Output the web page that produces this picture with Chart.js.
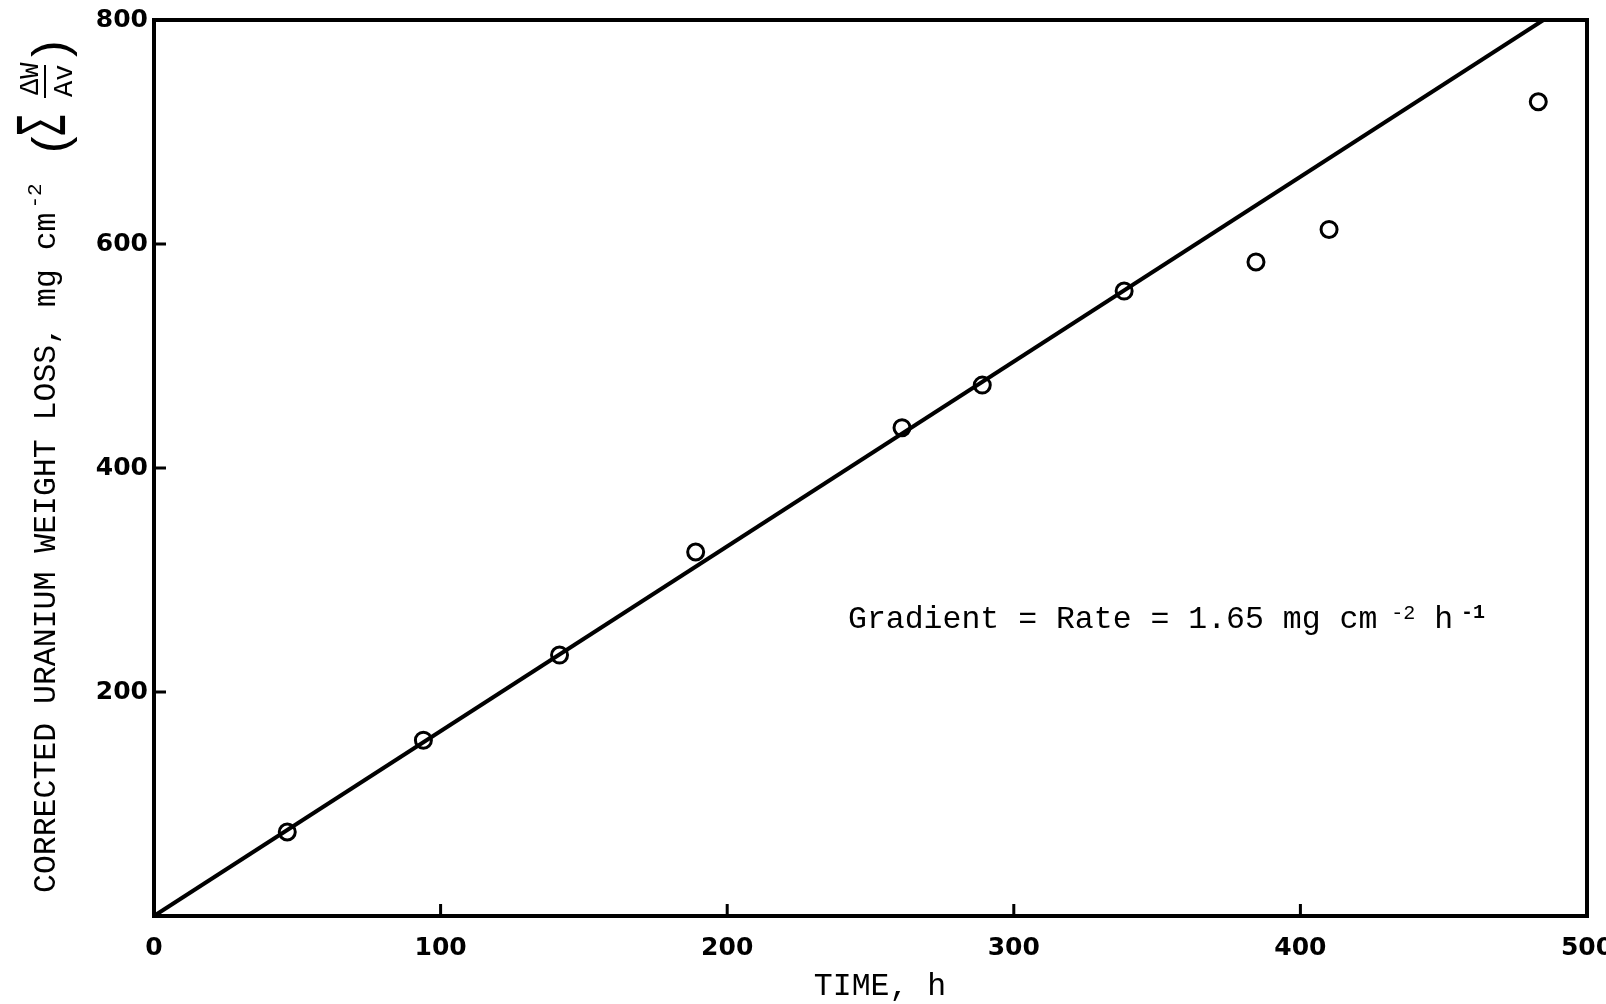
<!DOCTYPE html>
<html>
<head>
<meta charset="utf-8">
<script src="https://cdn.jsdelivr.net/npm/chart.js@4.4.1/dist/chart.umd.min.js"></script>
<style>
  html, body { margin: 0; padding: 0; background: #fff; }
  canvas { display: block; }
</style>
</head>
<body>
<canvas id="c" width="1606" height="1004"></canvas>
<script>
// time (h) and corrected weight loss (mg cm^-2)
const timeH  = [46.5, 94, 141.5, 189, 261, 289, 338.5, 384.5, 410, 483];
const lossMg = [75, 157, 233, 325, 436, 474, 558, 584, 613, 727];

// the straight line through the points (gradient 1.65)
const fitTime = [0, 484.8];
const fitLoss = [0, 800];
const rate = '1.65';

const xTicks = [0, 100, 200, 300, 400, 500];
const yTicks = [0, 200, 400, 600, 800];

const mono = '"Liberation Mono", "DejaVu Sans Mono", monospace';
const tickFont = { family: '"DejaVu Sans", sans-serif', size: 25, weight: 'bold' };

// draws pieces of text one after the other, returns the end x
function runText(ctx, x, y, parts) {
  for (const [t, size, raise, weight] of parts) {
    ctx.font = (weight || 'normal') + ' ' + size + 'px ' + mono;
    ctx.fillText(t, x, y - raise);
    x += ctx.measureText(t).width;
  }
  return x;
}

const frame = {
  id: 'frame',
  afterDraw(chart) {
    const { ctx, chartArea: a, scales } = chart;
    ctx.save();
    ctx.strokeStyle = '#000';
    ctx.fillStyle = '#000';
    ctx.lineWidth = 4;
    ctx.strokeRect(a.left, a.top, a.right - a.left, a.bottom - a.top);

    // short inward tick marks
    ctx.lineWidth = 3;
    ctx.beginPath();
    scales.x.ticks.forEach(t => {
      if (t.value <= 0 || t.value >= 500) return;
      const px = scales.x.getPixelForValue(t.value);
      ctx.moveTo(px, a.bottom);
      ctx.lineTo(px, a.bottom - 12);
    });
    scales.y.ticks.forEach(t => {
      if (t.value <= 0 || t.value >= 800) return;
      const py = scales.y.getPixelForValue(t.value);
      ctx.moveTo(a.left, py);
      ctx.lineTo(a.left + 12, py);
    });
    ctx.stroke();

    // x axis title
    ctx.textAlign = 'center';
    ctx.textBaseline = 'middle';
    ctx.font = '31.5px ' + mono;
    ctx.fillText('TIME, h', 880, 987);
    ctx.textAlign = 'left';

    // y axis title, rotated, with superscript and the sum term
    ctx.textBaseline = 'alphabetic';
    ctx.translate(55, 893);
    ctx.rotate(-Math.PI / 2);
    let d = runText(ctx, 0, 0, [['CORRECTED URANIUM WEIGHT LOSS, mg cm', 31.5, 0]]);
    runText(ctx, d + 4, 0, [['-2', 21, 14]]);
    ctx.font = '50px "Liberation Sans", sans-serif';
    ctx.fillText('(', 740, 11.5);
    ctx.save();
    ctx.translate(758, 0);
    ctx.scale(0.55, 1);
    ctx.font = '53px "DejaVu Sans", sans-serif';
    ctx.fillText('\u2211', 0, 0);
    ctx.restore();
    ctx.font = '27px ' + mono;
    ctx.fillText('\u0394W', 798, -17);
    ctx.fillText('Av', 796, 16.5);
    ctx.lineWidth = 2;
    ctx.beginPath();
    ctx.moveTo(795, -10);
    ctx.lineTo(828, -10);
    ctx.stroke();
    ctx.font = '50px "Liberation Sans", sans-serif';
    ctx.fillText(')', 836, 11.5);
    ctx.restore();

    // gradient note
    ctx.save();
    ctx.fillStyle = '#000';
    ctx.textBaseline = 'alphabetic';
    const base = 628;
    let x = runText(ctx, 848, base, [['Gradient = Rate = ' + rate + ' mg cm', 31.5, 0]]);
    x = runText(ctx, x + 14, base, [['-2', 20, 9]]);
    x = runText(ctx, x, base, [[' h', 31.5, 0]]);
    runText(ctx, x + 8, base, [['-1', 20, 10, 'bold']]);
    ctx.restore();
  }
};

new Chart(document.getElementById('c'), {
  type: 'scatter',
  data: {
    datasets: [
      {
        label: 'measured',
        data: timeH.map((t, i) => ({ x: t, y: lossMg[i] })),
        showLine: false,
        pointRadius: 8,
        pointBorderWidth: 3,
        pointBorderColor: '#000',
        pointBackgroundColor: 'rgba(0,0,0,0)',
        order: 0
      },
      {
        label: 'fit',
        data: fitTime.map((t, i) => ({ x: t, y: fitLoss[i] })),
        showLine: true,
        borderColor: '#000',
        borderWidth: 4,
        pointRadius: 0,
        order: 1
      }
    ]
  },
  options: {
    responsive: false,
    animation: false,
    layout: { padding: { left: 0, right: 19, top: 20, bottom: 0 } },
    plugins: { legend: { display: false }, tooltip: { enabled: false } },
    scales: {
      x: {
        type: 'linear',
        min: 0,
        max: 500,
        grid: { display: false, drawTicks: false },
        border: { display: false },
        afterBuildTicks: s => { s.ticks = xTicks.map(v => ({ value: v })); },
        afterFit: s => { s.height = 88; s.paddingLeft = 0; s.paddingRight = 0; },
        ticks: { color: '#000', font: tickFont, padding: 17, maxRotation: 0 }
      },
      y: {
        type: 'linear',
        min: 0,
        max: 800,
        grid: { display: false, drawTicks: false },
        border: { display: false },
        afterBuildTicks: s => { s.ticks = yTicks.map(v => ({ value: v })); },
        afterFit: s => { s.width = 154; s.paddingTop = 0; s.paddingBottom = 0; },
        ticks: {
          color: '#000',
          font: tickFont,
          padding: 6,
          callback: v => (v === 0 ? '' : v)
        }
      }
    }
  },
  plugins: [frame]
});
</script>
</body>
</html>
